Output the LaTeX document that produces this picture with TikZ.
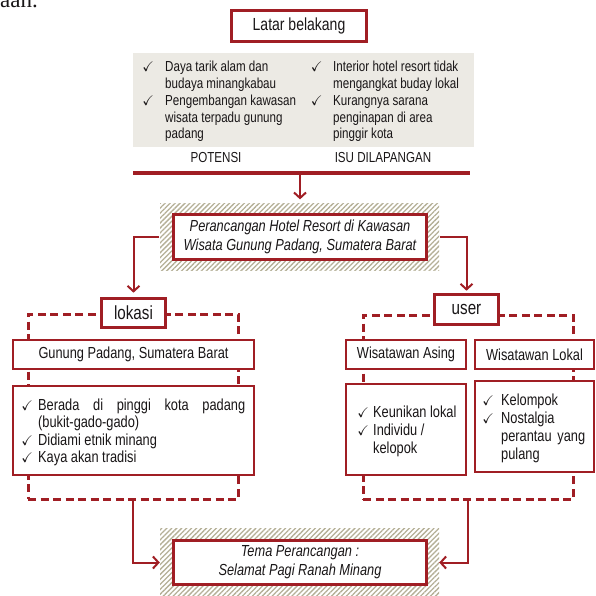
\documentclass[tikz,border=0pt]{standalone}
\usepackage{amsmath, amssymb}
\usepackage{xcolor}
\usepackage{fontspec}
\setmainfont{Liberation Sans}[FakeStretch=0.8]
\newfontfamily\docfont{Liberation Serif}
\usepackage{tikz}
\usetikzlibrary{arrows.meta, patterns.meta}

\definecolor{merah}{RGB}{160,30,36}
\definecolor{abu}{RGB}{236,234,228}
\definecolor{arsir}{RGB}{180,175,150}
\definecolor{teks}{RGB}{25,22,23}

\newcommand{\cek}{\makebox[10pt]{\fontsize{14}{14}\selectfont$\checkmark$}}

\tikzset{
    every node/.style={text=teks},
    kotak/.style={draw=merah, line width=3.6pt, fill=white, inner sep=0pt, align=center},
    kotaktipis/.style={draw=merah, line width=2.6pt, fill=white, inner sep=0pt, align=center},
    arsiran/.style={pattern={Lines[angle=45, distance=3.5pt, line width=1.3pt]}, pattern color=arsir, inner sep=0pt},
    garisputus/.style={draw=merah, line width=3pt, dash pattern=on 8pt off 4.5pt, inner sep=0pt},
    daftar/.style={anchor=base west, inner sep=0pt},
    panah/.style={draw=merah, line width=2pt, -{Straight Barb[length=5.5pt, width=12pt]}}
}

\begin{document}
\begin{tikzpicture}[x=1pt, y=-1pt]
            \useasboundingbox (0,0) rectangle (596,596);
            \clip (0,0) rectangle (596,596);

            % potongan teks dokumen
            \node[anchor=base west, inner sep=0pt, font=\docfont\fontsize{23}{23}\selectfont] (potongan) at (0,7.5) {aan.};

            % latar belakang
            \node[kotak, minimum width=135pt, minimum height=31pt, font=\fontsize{17.5}{20}\selectfont] (latar) at (299,26) {Latar belakang};
            \node[fill=abu, minimum width=341pt, minimum height=94pt, inner sep=0pt] (panel) at (303.5,100) {};
            \node[daftar, font=\fontsize{14.5}{16.7}\selectfont] (potensi) at (143,72) {%
                \begin{tabular}[t]{@{}l@{\hspace{12pt}}l@{}}
                    \cek & Daya tarik alam dan\\
                         & budaya minangkabau\\
                    \cek & Pengembangan kawasan\\
                         & wisata terpadu gunung\\
                         & padang
                \end{tabular}};
            \node[daftar, font=\fontsize{14.5}{16.7}\selectfont] (isu) at (311.5,72) {%
                \begin{tabular}[t]{@{}l@{\hspace{11.5pt}}l@{}}
                    \cek & Interior hotel resort tidak\\
                         & mengangkat buday lokal\\
                    \cek & Kurangnya sarana\\
                         & penginapan di area\\
                         & pinggir kota
                \end{tabular}};
            \node[font=\fontsize{14.5}{17}\selectfont] (lblpotensi) at (216,158) {POTENSI};
            \node[font=\fontsize{14.5}{17}\selectfont] (lblisu) at (383,158) {ISU DILAPANGAN};

            \coordinate (garisL) at (133,173);
            \coordinate (garisR) at (470,173);
            \coordinate (garisT) at (300,173);
            \draw[merah, line width=3.4pt] (garisL) -- (garisR);

            % judul
            \node[arsiran, minimum width=279pt, minimum height=67pt] (judulbg) at (299.5,236.5) {};
            \node[kotak, minimum width=253pt, minimum height=45pt, font=\itshape\fontsize{16}{19}\selectfont] (judul) at (300,237) {Perancangan Hotel Resort di Kawasan\\Wisata Gunung Padang, Sumatera Barat};
            \draw[panah, shorten >=3pt] (garisT) -- (garisT |- judulbg.north);

            % lokasi
            \node[garisputus, minimum width=210pt, minimum height=185pt] (lokbingkai) at (133,406.5) {};
            \node[kotak, minimum width=64pt, minimum height=29pt, font=\fontsize{19}{22}\selectfont] (lokasi) at (133.5,313) {lokasi};
            \node[kotaktipis, minimum width=241pt, minimum height=29pt, font=\fontsize{16}{19}\selectfont] (gunung) at (133.5,354.5) {Gunung Padang, Sumatera Barat};
            \node[kotaktipis, minimum width=241pt, minimum height=89pt] (lokdetail) at (133.5,430.5) {};
            \node[daftar, font=\fontsize{16}{17.3}\selectfont] (lokisi) at (22,410.5) {%
                \begin{tabular}[t]{@{}l@{\hspace{6pt}}l@{}}
                    \cek & \makebox[207pt][s]{Berada di pinggi kota padang}\\
                         & (bukit-gado-gado)\\
                    \cek & Didiami etnik minang\\
                    \cek & Kaya akan tradisi
                \end{tabular}};

            % user
            \node[garisputus, minimum width=210pt, minimum height=184pt] (userbingkai) at (468,407) {};
            \node[kotak, minimum width=64pt, minimum height=30pt, font=\fontsize{19}{22}\selectfont] (user) at (466.5,309.5) {user};
            \node[kotaktipis, minimum width=120pt, minimum height=29pt, font=\fontsize{16}{19}\selectfont] (asing) at (406,354.5) {Wisatawan Asing};
            \node[kotaktipis, minimum width=119pt, minimum height=29pt, font=\fontsize{16}{19}\selectfont] (lokal) at (534.5,354.5) {Wisatawan Lokal};
            \node[kotaktipis, minimum width=120pt, minimum height=91pt] (asingdetail) at (406,429.5) {};
            \node[kotaktipis, minimum width=119pt, minimum height=91pt] (lokaldetail) at (534.5,426.5) {};
            \node[daftar, font=\fontsize{16}{18}\selectfont] (asingisi) at (358,417.5) {%
                \begin{tabular}[t]{@{}l@{\hspace{5pt}}l@{}}
                    \cek & Keunikan lokal\\
                    \cek & Individu /\\
                         & kelopok
                \end{tabular}};
            \node[daftar, font=\fontsize{16}{18}\selectfont] (lokalisi) at (483,405.5) {%
                \begin{tabular}[t]{@{}l@{\hspace{8pt}}l@{}}
                    \cek & Kelompok\\
                    \cek & Nostalgia\\
                         & \makebox[84pt][s]{perantau yang}\\
                         & pulang
                \end{tabular}};

            % tema
            \node[arsiran, minimum width=279pt, minimum height=69pt] (temabg) at (299.5,562.5) {};
            \node[kotak, minimum width=253pt, minimum height=44pt, font=\itshape\fontsize{16}{19}\selectfont] (tema) at (300,562.5) {Tema Perancangan :\\Selamat Pagi Ranah Minang};

            \draw[panah, shorten >=4pt] (judulbg.west) -| (lokasi.north); % judul-lokasi
            \draw[panah, shorten >=2pt] (judulbg.east) -| (user.north); % judul-user
            \draw[panah] (lokbingkai.south) |- (temabg.west); % lokasi-tema
            \draw[panah] (userbingkai.south) |- (temabg.east); % user-tema
        \end{tikzpicture}
\end{document}
